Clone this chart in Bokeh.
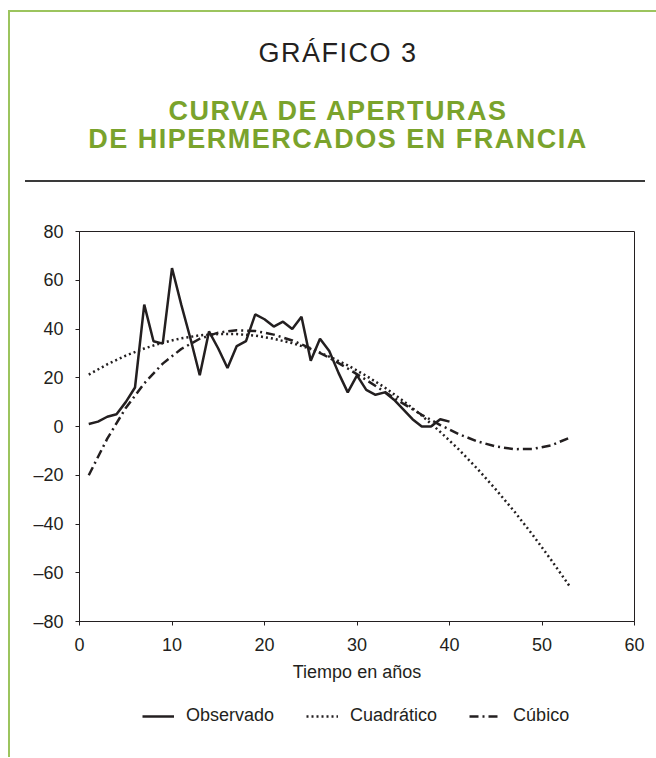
from bokeh.plotting import figure
from bokeh.models import Range1d, FixedTicker, Legend, LegendItem, Div
from bokeh.layouts import column
from bokeh.embed import file_html
from bokeh.resources import INLINE

# ---- data ----
anios_obs = [1, 2, 3, 4, 5, 6, 7, 8, 9, 10, 11, 12, 13, 14, 15, 16, 17, 18, 19, 20,
             21, 22, 23, 24, 25, 26, 27, 28, 29, 30, 31, 32, 33, 34, 35, 36, 37, 38, 39, 40]
observado = [1, 2, 4, 5, 10, 16, 50, 35, 34, 65, 50, 36, 21, 39, 32, 24, 33, 35, 46, 44,
             41, 43, 40, 45, 27, 36, 31, 22, 14, 21, 15, 13, 14, 11, 7, 3, 0, 0, 3, 2]

anios_ajuste = [1, 3, 5, 7, 9, 11, 13, 15, 17, 19, 21, 23, 25, 27, 29, 31, 33, 35, 37,
                39, 41, 43, 45, 47, 49, 51, 53]
cuadratico = [21.3, 25.5, 29.1, 32.0, 34.4, 36.2, 37.4, 37.9, 37.9, 37.3, 36.0, 34.2, 31.8,
              28.7, 25.1, 20.8, 16.0, 10.5, 4.5, -2.2, -9.4, -17.3, -25.8, -34.8, -44.5,
              -54.8, -65.6]
cubico = [-20.0, -5.0, 7.6, 17.7, 25.8, 31.8, 36.0, 38.5, 39.5, 39.2, 37.7, 35.3, 32.1,
          28.2, 23.8, 19.1, 14.2, 9.4, 4.8, 0.6, -3.1, -6.1, -8.2, -9.3, -9.2, -7.7, -4.6]

x_ticks = [0, 10, 20, 30, 40, 50, 60]
y_ticks = [-80, -60, -40, -20, 0, 20, 40, 60, 80]

titulo = "GRÁFICO 3"
subtitulo_1 = "CURVA DE APERTURAS"
subtitulo_2 = "DE HIPERMERCADOS EN FRANCIA"
eje_x = "Tiempo en años"
series = ["Observado", "Cuadrático", "Cúbico"]

INK = "#231f20"
GREEN = "#7aa32c"
FRAME_GREEN = "#9cc45e"
FONT = "Liberation Sans"
DASHES = ["solid", "2 3", "9 4 2 4"]

# ---- header ----
header_html = f"""
<div style="position:relative;width:646px;height:200px;font-family:'{FONT}',Arial,sans-serif;">
  <div style="position:absolute;left:18px;top:28px;width:620px;text-align:center;
              font-size:27px;line-height:27.5px;letter-spacing:1.5px;color:{INK};">{titulo}</div>
  <div style="position:absolute;left:18px;top:86px;width:620px;text-align:center;
              font-size:27px;line-height:27.5px;font-weight:bold;letter-spacing:1.5px;
              color:{GREEN};">{subtitulo_1}</div>
  <div style="position:absolute;left:18px;top:113.5px;width:620px;text-align:center;
              font-size:27px;line-height:27.5px;font-weight:bold;letter-spacing:1.5px;
              color:{GREEN};">{subtitulo_2}</div>
  <div style="position:absolute;left:15px;top:168px;width:620px;height:0;
              border-top:2px solid #3a3a3a;"></div>
</div>
"""
header = Div(text=header_html, width=646, height=200, margin=0)

# ---- chart ----
p = figure(width=646, height=479, output_backend="svg", toolbar_location=None,
           x_range=Range1d(0, 60), y_range=Range1d(-80, 80),
           min_border_left=69, min_border_right=22, min_border_top=19,
           min_border_bottom=70, margin=0)
p.background_fill_color = "white"
p.border_fill_color = "white"
p.outline_line_color = INK
p.outline_line_width = 1
p.xgrid.visible = False
p.ygrid.visible = False

p.line(anios_obs, observado, line_color=INK, line_width=2.5, line_dash=DASHES[0])
p.line(anios_ajuste, cuadratico, line_color=INK, line_width=2.5, line_dash=DASHES[1])
p.line(anios_ajuste, cubico, line_color=INK, line_width=2.5, line_dash=DASHES[2])

for ax in (p.xaxis[0], p.yaxis[0]):
    ax.axis_line_color = INK
    ax.major_tick_line_color = INK
    ax.major_tick_out = 4
    ax.major_tick_in = 0
    ax.minor_tick_line_color = None
    ax.major_label_text_font = FONT
    ax.major_label_text_font_size = "18px"
    ax.major_label_text_color = INK

p.xaxis.ticker = FixedTicker(ticks=x_ticks)
p.yaxis.ticker = FixedTicker(ticks=y_ticks)
p.yaxis.major_label_overrides = {t: (f"\u2013{abs(t)}" if t < 0 else str(t)) for t in y_ticks}
p.xaxis.major_label_standoff = 12
p.yaxis.major_label_standoff = 12
p.xaxis.axis_label = eje_x
p.xaxis.axis_label_text_font = FONT
p.xaxis.axis_label_text_font_size = "18px"
p.xaxis.axis_label_text_font_style = "normal"
p.xaxis.axis_label_text_color = INK
p.xaxis.axis_label_standoff = 8

# ---- legend strip: its own small figure (no axes) so the legend is not clipped.
# The same series are drawn there but fall outside its ranges, so only the
# legend samples show.
q = figure(width=646, height=66, output_backend="svg", toolbar_location=None,
           x_range=Range1d(-3, -2), y_range=Range1d(-3, -2), min_border=0, margin=0,
           x_axis_location=None, y_axis_location=None)
q.grid.visible = False
q.outline_line_color = None
q.background_fill_color = "white"
q.border_fill_color = "white"

items = []
for name, xs, ys, dash in zip(series, [anios_obs, anios_ajuste, anios_ajuste],
                              [observado, cuadratico, cubico], DASHES):
    r = q.line(xs, ys, line_color=INK, line_width=2.5, line_dash=dash)
    items.append(LegendItem(label=name, renderers=[r]))

legend = Legend(items=items, orientation="horizontal", location=(63, 31),
                padding=0, margin=0, spacing=32, glyph_width=32, label_standoff=12,
                label_text_font=FONT, label_text_font_size="18px",
                label_text_color=INK, border_line_color=None,
                background_fill_alpha=0)
q.add_layout(legend)

layout = column(header, p, q, spacing=0, margin=(10, 0, 0, 8),
                styles={"border-left": f"2px solid {FRAME_GREEN}",
                        "border-top": f"2px solid {FRAME_GREEN}"})

open("out.html", "w").write(file_html(layout, INLINE))
